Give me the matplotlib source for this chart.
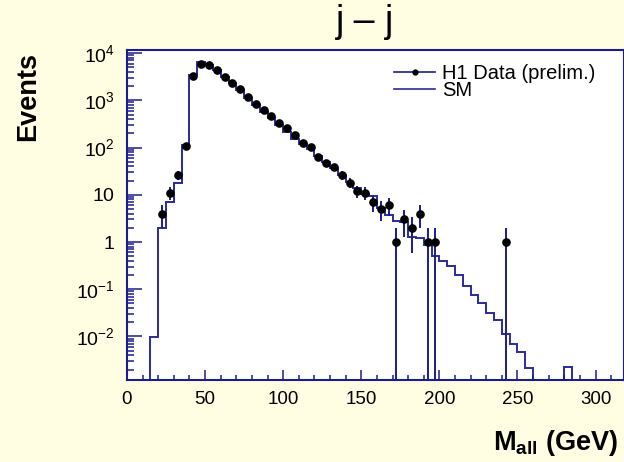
import numpy as np
import matplotlib.pyplot as plt
from matplotlib.lines import Line2D
from matplotlib.ticker import MultipleLocator, LogLocator, NullFormatter

plt.rcParams['font.family'] = ['Liberation Sans', 'DejaVu Sans']
plt.rcParams['mathtext.fontset'] = 'custom'
plt.rcParams['mathtext.rm'] = 'Liberation Sans'
plt.rcParams['mathtext.bf'] = 'Liberation Sans:bold'
plt.rcParams['mathtext.it'] = 'Liberation Sans:italic'

# SM prediction, 5 GeV bins from 0 to 320 GeV
bin_edges = np.arange(0, 325, 5)
sm_events = [0, 0, 0, 0.0098, 2.0, 7.0, 18, 115, 3400, 6600,
             5560, 4370, 3150, 2290, 1660, 1100, 800, 575, 430, 300,
             218, 150, 118, 92, 66, 49, 37, 26, 19, 14,
             10.5, 9.2, 5.2, 3.8, 2.8, 2.7, 1.3, 1.2, 0.88, 0.51,
             0.39, 0.31, 0.20, 0.12, 0.074, 0.050, 0.031, 0.022, 0.0115, 0.0071,
             0.0047, 0.0022, 0, 0, 0, 0, 0.0023, 0, 0, 0,
             0, 0, 0, 0]

# H1 data (bin centres, counts)
data_mass = [22.5, 27.5, 32.5, 37.5, 42.5, 47.5, 52.5, 57.5, 62.5, 67.5,
             72.5, 77.5, 82.5, 87.5, 92.5, 97.5, 102.5, 107.5, 112.5, 117.5,
             122.5, 127.5, 132.5, 137.5, 142.5, 147.5, 152.5, 157.5, 162.5, 167.5,
             172.5, 177.5, 182.5, 187.5, 192.5, 197.5, 242.5]
data_events = [4, 11, 26, 110, 3200, 6000, 5550, 4370, 3150, 2320,
               1700, 1160, 850, 625, 466, 337, 258, 180, 124, 103,
               64, 47, 39, 26, 18, 12, 11, 7, 5, 6,
               1, 3, 2, 4, 1, 1, 1]

ytick_values = [1e-2, 1e-1, 1, 10, 1e2, 1e3, 1e4]
ytick_labels = [r'$10^{-2}$', r'$10^{-1}$', r'$1^{\enspace}$', r'$10^{\enspace}$',
                r'$10^{2}$', r'$10^{3}$', r'$10^{4}$']

navy = '#1c1c8c'
hist_col = '#2a2a9c'
bg = '#fffee2'

fig = plt.figure(figsize=(6.24, 4.62), dpi=100, facecolor=bg)
ax = fig.add_axes([127/624, 82/462, 497/624, 330/462])
ax.set_facecolor('white')

ax.stairs(sm_events, bin_edges, color=hist_col, lw=1.4, baseline=None)

err = np.sqrt(data_events)
ax.errorbar(data_mass, data_events, yerr=err, fmt='o', color='black',
            ms=5.2, ecolor=navy, elinewidth=1.4, capsize=0, zorder=3)

ax.set_yscale('log')
ax.set_xlim(0, 318.2)
ax.set_ylim(1.2e-3, 1.16e4)

ax.set_yticks(ytick_values, ytick_labels)
ax.yaxis.set_minor_locator(LogLocator(base=10, subs=np.arange(2, 10)))
ax.yaxis.set_minor_formatter(NullFormatter())
ax.xaxis.set_major_locator(MultipleLocator(50))
ax.xaxis.set_minor_locator(MultipleLocator(10))

for s in ax.spines.values():
    s.set_color(navy)
    s.set_linewidth(1.5)

ax.tick_params(axis='x', which='major', direction='in', length=7.2, width=1.1,
               color=navy, labelsize=13.5, pad=8, top=False)
ax.tick_params(axis='x', which='minor', direction='in', length=3.6, width=1.1,
               color=navy, top=False)
ax.tick_params(axis='y', which='major', direction='in', length=10.8, width=1.1,
               color=navy, labelsize=14, pad=9, right=False)
ax.tick_params(axis='y', which='minor', direction='in', length=5, width=1.1,
               color=navy, right=False)

handles = [Line2D([], [], color=navy, lw=1.2, marker='o', ms=3.5,
                  markerfacecolor='black', markeredgecolor='black'),
           Line2D([], [], color=hist_col, lw=1.2)]
ax.legend(handles, ['H1 Data (prelim.)', 'SM'], loc='upper left',
          bbox_to_anchor=(394/624, 1 - 64/462), bbox_transform=fig.transFigure,
          frameon=False, fontsize=14.5, borderpad=0, borderaxespad=0,
          labelspacing=-0.08, handlelength=2.05, handletextpad=0.33)

fig.text(365/624, 1 - 4/462, 'j \u2013 j', ha='center', va='top', fontsize=27)
fig.text(28/624, 1 - 96/462, 'Events', rotation=90, ha='center', va='center',
         fontsize=19.5, fontweight='bold')
fig.text(618/624, 1 - 450/462, r'$\mathbf{M}_{\mathbf{all}}$ (GeV)', ha='right',
         va='baseline', fontsize=19.5, fontweight='bold')

fig.savefig('out.png', dpi=100, facecolor=bg)
